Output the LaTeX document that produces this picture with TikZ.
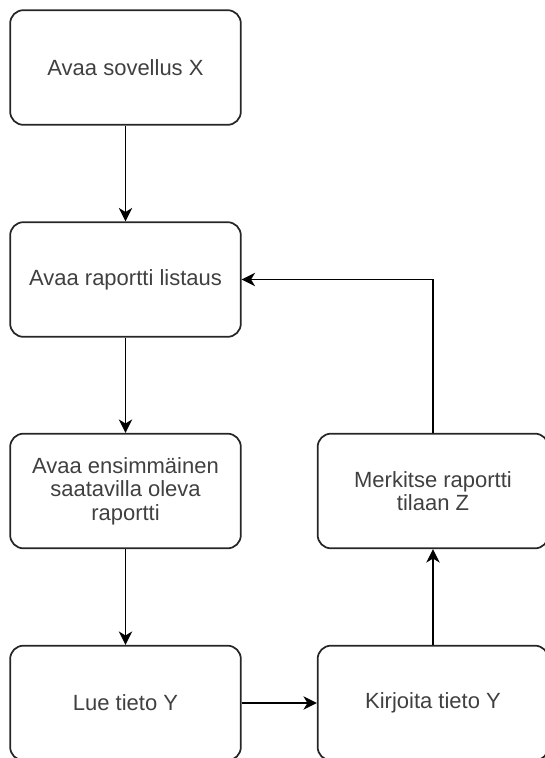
\documentclass[tikz,border=0pt]{standalone}
\usepackage{fontspec}
\setmainfont{Liberation Sans}
\usetikzlibrary{arrows.meta}
\begin{document}
\begin{tikzpicture}
          [
            x=0.75pt, y=-0.75pt,
            box/.style={draw=black!85, line width=1.3pt, rounded corners=10pt,
              minimum width=173pt, minimum height=86pt, inner sep=0pt,
              align=center, text=black!75, font=\fontsize{16.5}{17.5}\selectfont},
            flow/.style={line width=1.3pt, draw=black, -{Stealth[length=10pt,width=10pt,inset=3pt]}}
          ]
          \useasboundingbox (0,0) rectangle (544,758);
          % boxes on the left
          \node [box] (app) at (125.5,67.5) {Avaa sovellus X};
          \node [box] (list) at (125.5,279.5) {Avaa raportti listaus};
          \node [box] (first) at (125.5,491) {Avaa ensimmäinen\\saatavilla oleva\\raportti};
          \node [box] (read) at (125.5,703) {Lue tieto Y};
          % boxes on the right
          \node [box] (write) at (433,703) {Kirjoita tieto Y};
          \node [box] (mark) at (433,491) {Merkitse raportti\\tilaan Z};
          % edges
          \draw [flow] (app) -- (list);
          \draw [flow] (list) -- (first);
          \draw [flow] (first) -- (read);
          \draw [flow] (read) -- (write);
          \draw [flow] (write) -- (mark);
          \draw [flow] (mark.north) |- (list.east);
        \end{tikzpicture}
\end{document}
